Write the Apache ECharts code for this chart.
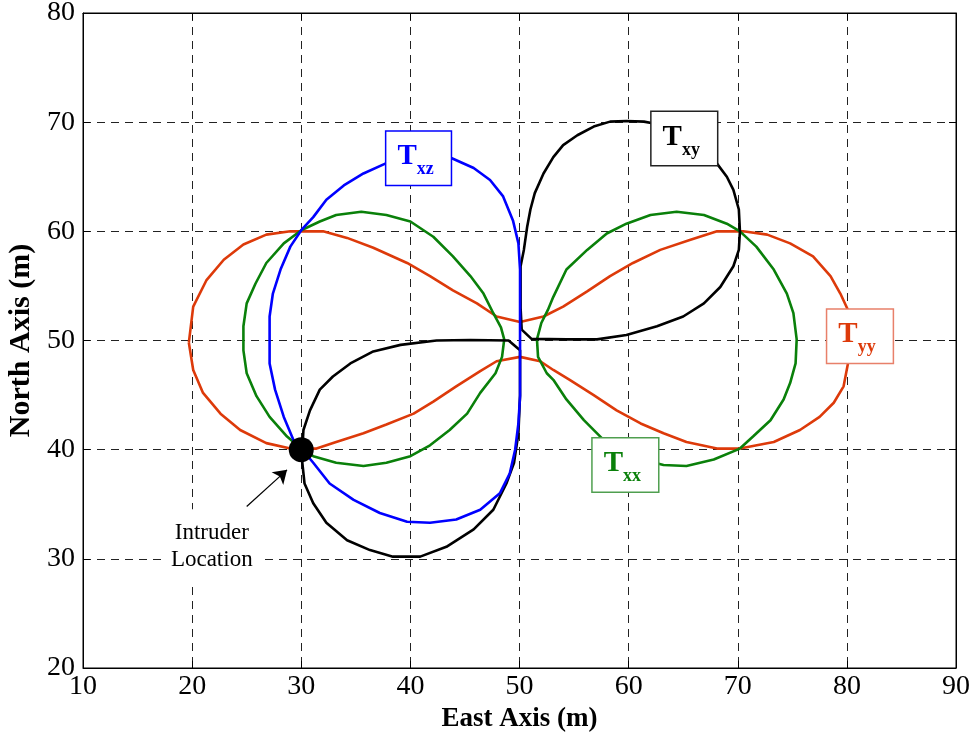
<!DOCTYPE html>
<html>
<head>
<meta charset="utf-8">
<script src="https://cdn.jsdelivr.net/npm/echarts@6/dist/echarts.min.js"></script>
<style>
  html, body { margin: 0; background: #fff; }
  #chart { width: 977px; height: 742px; }
</style>
</head>
<body>
<div id="chart"></div>
<script>
// trajectories, [east, north] in metres
const txz = [[30.1,40.0],[29.4,40.6],[28.4,43.0],[27.6,45.5],[27.1,47.9],[27.1,50.0],[27.1,52.2],[27.4,54.3],[28.1,56.5],[29.0,58.6],[30.0,60.1],[31.1,61.3],[32.3,62.9],[33.9,64.2],[35.7,65.3],[37.7,66.2],[39.6,66.9],[41.5,67.2],[43.8,66.7],[45.8,65.8],[47.3,64.7],[48.5,63.2],[49.4,61.0],[49.9,58.9],[50.05,56.5],[50.05,50.0],[50.05,44.9],[49.9,42.4],[49.6,40.0],[49.1,37.8],[48.2,36.0],[46.4,34.5],[44.2,33.6],[41.8,33.3],[39.7,33.4],[37.2,34.2],[34.8,35.4],[32.6,36.9],[31.1,38.8],[30.1,40.0]];

const tyy = [[19.7,49.8],[20.1,53.1],[21.3,55.5],[22.9,57.4],[24.7,58.8],[26.8,59.7],[29.0,60.0],[32.0,60.0],[34.2,59.4],[36.6,58.5],[39.7,57.1],[41.8,55.9],[43.9,54.6],[46.1,53.4],[47.9,52.2],[50.05,51.7],[52.2,52.2],[54.0,53.1],[56.2,54.5],[58.3,55.9],[60.4,57.1],[62.9,58.3],[65.6,59.2],[68.1,60.0],[70.5,60.0],[72.7,59.7],[74.8,58.9],[76.9,57.7],[78.5,55.9],[79.4,54.3],[80.1,52.8],[80.4,50.0],[80.1,47.9],[79.7,45.8],[78.8,44.3],[77.5,43.0],[75.7,41.8],[73.3,40.7],[70.2,40.1],[68.1,40.1],[65.3,40.7],[63.2,41.5],[61.1,42.4],[58.9,43.6],[56.8,45.0],[54.6,46.4],[53.1,47.3],[51.9,48.1],[50.05,48.5],[47.9,48.1],[46.4,47.2],[44.2,45.8],[42.1,44.4],[40.3,43.3],[37.8,42.3],[35.7,41.5],[33.2,40.7],[31.4,40.1],[29.0,40.1],[26.8,40.6],[24.4,41.8],[22.6,43.3],[21.0,45.2],[20.1,47.3],[19.7,49.8]];

const txxLeft = [[30.1,40.0],[28.7,41.2],[27.1,43.0],[25.9,44.9],[25.0,47.0],[24.7,49.1],[24.7,51.3],[25.0,53.4],[25.8,55.2],[26.8,57.1],[28.4,58.9],[30.0,60.1],[31.7,60.9],[33.2,61.5],[35.5,61.8],[37.8,61.5],[40.0,60.9],[42.1,59.5],[43.9,57.7],[45.5,55.9],[46.7,54.3],[47.6,52.5],[48.3,51.2],[48.6,50.1],[48.4,48.5],[47.8,47.0],[46.4,45.2],[45.2,43.3],[43.6,41.8],[41.8,40.4],[40.0,39.4],[37.8,38.8],[35.7,38.5],[33.2,38.8],[31.1,39.4],[30.1,40.0]];

const txxRight = [[70.2,40.1],[71.4,41.2],[73.0,42.7],[74.2,44.6],[74.8,46.1],[75.3,47.9],[75.4,50.1],[75.1,52.5],[74.5,54.3],[73.3,56.5],[71.7,58.6],[70.2,60.0],[69.0,60.7],[66.9,61.5],[64.4,61.8],[62.0,61.5],[59.8,60.7],[58.0,59.8],[56.2,58.3],[54.3,56.5],[53.1,54.0],[52.6,52.8],[52.0,51.6],[51.6,50.1],[51.7,48.5],[52.5,47.0],[53.1,46.4],[54.3,44.6],[55.9,42.7],[57.7,40.9],[59.5,39.9],[61.2,39.1],[63.2,38.6],[65.3,38.5],[67.8,39.1],[70.2,40.1]];

const txyLeft = [[30.1,40.0],[30.2,41.8],[30.8,43.6],[31.7,45.5],[32.9,46.7],[34.5,47.9],[36.6,49.0],[39.1,49.6],[42.4,50.0],[45.5,50.05],[49.0,50.0],[50.05,49.1],[50.05,45.0],[49.9,41.5],[49.5,38.8],[48.8,36.9],[47.6,34.5],[45.8,32.7],[43.3,31.1],[40.9,30.2],[38.4,30.2],[36.3,30.8],[34.2,31.7],[32.3,33.3],[31.1,35.1],[30.3,36.9],[30.1,38.8],[30.1,40.0]];

const txyRight = [[50.2,51.0],[51.1,50.15],[54.3,50.1],[57.1,50.1],[59.8,50.5],[62.6,51.3],[65.0,52.2],[66.9,53.4],[68.4,54.9],[69.6,56.8],[70.1,58.3],[70.2,60.0],[70.1,62.0],[69.6,63.8],[69.0,65.0],[68.1,66.2],[66.6,67.9],[64.5,69.3],[62.2,69.9],[61.4,70.05],[59.8,70.1],[58.3,70.05],[56.8,69.6],[55.3,68.8],[54.0,67.9],[53.1,66.8],[52.2,65.3],[51.4,63.5],[51.0,62.0],[50.7,60.4],[50.4,58.3],[50.1,56.8],[50.1,53.0],[50.2,51.0]];

const intruder = [30, 40];
const arrowFrom = [25.0, 34.8];
const arrowTo = [28.7, 38.15];
const noteAt = [21.8, 31.15];

const tagSubs = ['xz', 'xy', 'yy', 'xx'];
const tagAt = [[40.75, 66.7], [65.1, 68.5], [81.2, 50.4], [59.7, 38.6]];

const serif = '"Liberation Serif", "Times New Roman", serif';
const BLUE = '#0000ff', RED = '#dd3a0a', GREEN = '#0a800a', BLACK = '#000';
const tagText = [BLUE, BLACK, RED, GREEN];
const tagBorder = [BLUE, '#222', '#e8806a', '#4f9f4f'];

const chart = echarts.init(document.getElementById('chart'));

function path(name, data, color) {
    return {
        name: name, type: 'line', data: data,
        symbol: 'none', smooth: false, silent: true,
        lineStyle: {color: color, width: 2.6},
        z: 3
    };
}

const tagData = tagSubs.map((s, i) => ({
    value: tagAt[i],
    label: {
        formatter: '{t|T}{s|' + s + '}',
        borderColor: tagBorder[i],
        rich: {
            t: {fontFamily: serif, fontWeight: 'bold', fontSize: 29, color: tagText[i], lineHeight: 44, verticalAlign: 'middle'},
            s: {fontFamily: serif, fontWeight: 'bold', fontSize: 18, color: tagText[i], lineHeight: 15, verticalAlign: 'bottom'}
        }
    }
}));

const axisFont = {fontFamily: serif, fontSize: 28, color: '#000'};
const gridDash = {color: '#222', type: [8, 6], width: 1};

const option = {
    backgroundColor: '#fff',
    animation: false,
    grid: {
        left: 83, right: 21, top: 13, bottom: 74,
        outerBoundsMode: 'none', containLabel: false,
        show: true, borderColor: '#000', borderWidth: 1
    },
    xAxis: [{
        type: 'value', min: 10, max: 90, interval: 10,
        name: 'East Axis (m)', nameLocation: 'middle', nameGap: 35,
        nameTextStyle: {fontFamily: serif, fontSize: 27, fontWeight: 'bold', color: '#000'},
        axisLine: {show: true, lineStyle: {color: '#000', width: 1}},
        axisTick: {show: true, inside: true, length: 7, lineStyle: {color: '#000'}},
        axisLabel: Object.assign({margin: 5}, axisFont),
        splitLine: {show: true, lineStyle: gridDash}
    }, {
        type: 'value', min: 10, max: 90, interval: 10, position: 'top',
        axisLine: {show: true, lineStyle: {color: '#000'}},
        axisTick: {show: true, inside: true, length: 7, lineStyle: {color: '#000'}},
        axisLabel: {show: false}, splitLine: {show: false}
    }],
    yAxis: [{
        type: 'value', min: 20, max: 80, interval: 10,
        name: 'North Axis (m)', nameLocation: 'middle', nameGap: 40,
        nameTextStyle: {fontFamily: serif, fontSize: 30, fontWeight: 'bold', color: '#000'},
        axisLine: {show: true, lineStyle: {color: '#000', width: 1}},
        axisTick: {show: true, inside: true, length: 7, lineStyle: {color: '#000'}},
        axisLabel: Object.assign({margin: 8}, axisFont),
        splitLine: {show: true, lineStyle: gridDash}
    }, {
        type: 'value', min: 20, max: 80, interval: 10, position: 'right',
        axisLine: {show: true, lineStyle: {color: '#000'}},
        axisTick: {show: true, inside: true, length: 7, lineStyle: {color: '#000'}},
        axisLabel: {show: false}, splitLine: {show: false}
    }],
    series: [
        path('Tyy', tyy, RED),
        path('Txx', txxLeft, GREEN),
        path('Txx', txxRight, GREEN),
        path('Txy', txyLeft, BLACK),
        path('Txy', txyRight, BLACK),
        path('Txz', txz, BLUE),
        {
            // intruder marker
            type: 'scatter', data: [intruder], symbol: 'circle', symbolSize: 25,
            itemStyle: {color: '#000', opacity: 1}, z: 6, silent: true
        },
        {
            type: 'lines', coordinateSystem: 'cartesian2d',
            data: [{coords: [arrowFrom, arrowTo]}],
            symbol: ['none', 'arrow'], symbolSize: 13,
            lineStyle: {color: '#000', width: 1.2, opacity: 1}, z: 6, silent: true
        },
        {
            type: 'scatter', data: [noteAt], symbolSize: 0, z: 5, silent: true,
            itemStyle: {opacity: 1},
            label: {
                show: true, position: 'inside', formatter: 'Intruder\nLocation',
                fontFamily: serif, fontSize: 23, lineHeight: 27, color: '#000',
                backgroundColor: '#fff', padding: [10, 8, 10, 8]
            }
        },
        {
            type: 'scatter', data: tagData, symbolSize: 0, z: 7, silent: true,
            itemStyle: {opacity: 1},
            label: {
                show: true, position: 'inside',
                backgroundColor: '#fff', borderWidth: 1.5,
                padding: [3, 17, 6, 11]
            }
        }
    ]
};
chart.setOption(option);
</script>
</body>
</html>
